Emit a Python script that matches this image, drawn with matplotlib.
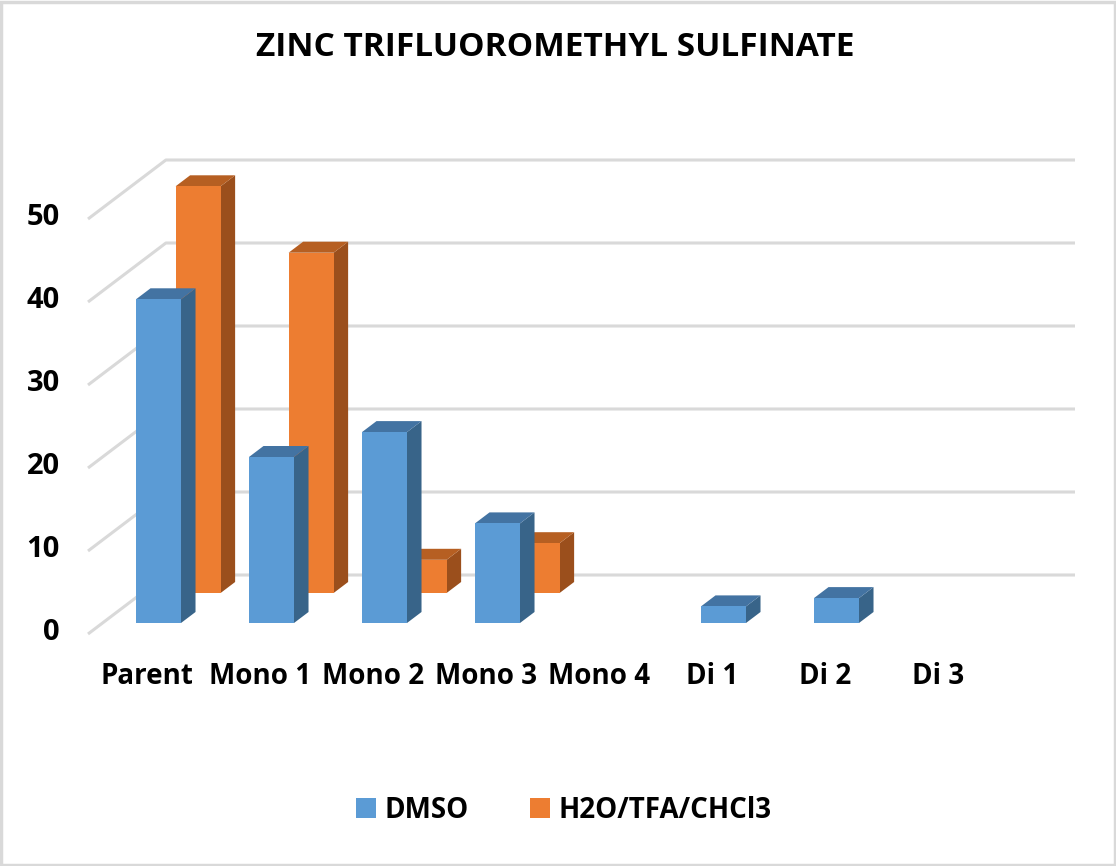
import numpy as np
import matplotlib
matplotlib.use("Agg")
import matplotlib.pyplot as plt
from matplotlib.patches import Polygon, Rectangle, Patch

plt.rcParams['font.family'] = ['Open Sans', 'DejaVu Sans']
plt.rcParams['font.weight'] = 'bold'

categories = ['Parent', 'Mono 1', 'Mono 2', 'Mono 3', 'Mono 4', 'Di 1', 'Di 2', 'Di 3']
dmso = [39, 20, 23, 12, 0, 2, 3, 0]
h2o_tfa = [49, 41, 4, 6, 0, 0, 0, 0]
series_names = ['DMSO', 'H2O/TFA/CHCl3']
yticks = [0, 10, 20, 30, 40, 50]
title = 'ZINC TRIFLUOROMETHYL SULFINATE'

# colours: front, side, top
blue = ('#5b9bd5', '#386489', '#4373a2')
orange = ('#ed7d31', '#9b4f1c', '#b65f22')
grid_col = '#d9d9d9'

# oblique projection: px per category / px per value unit
PXX = 113.0
PXY = 8.3
SLOPE = 1.32  # x px per y px of depth


def depth(d):
    return SLOPE * d / PXX, d / PXY


fig = plt.figure(figsize=(11.16, 8.66), dpi=100)
ax = fig.add_axes([0, 0, 1, 1])
ax.set_xlim(-158.6 / PXX, (1116 - 158.6) / PXX)
ax.set_ylim((623 - 866) / PXY, 623 / PXY)
ax.axis('off')

# walls / gridlines (front wall at depth 0, back wall at depth 59)
wall_x0 = (88 - 158.6) / PXX
wall_y0 = (623 - 634) / PXY
bdx, bdy = depth(59)
for v in yticks:
    ax.plot([wall_x0, wall_x0 + bdx, (1075 - 158.6) / PXX],
            [wall_y0 + v, wall_y0 + bdy + v, wall_y0 + bdy + v],
            color=grid_col, lw=2.2, solid_capstyle='butt', zorder=1)
    ax.text((60 - 158.6) / PXX, wall_y0 + v + 0.2, str(v), ha='right', va='center',
            fontsize=21, fontweight='bold', color='black')

width = 45 / PXX
thick = 11  # bar depth in px


def draw_series(values, d_front, cols, z):
    ox, oy = depth(d_front - 11)
    tx, ty = depth(thick)
    x = np.arange(len(values)) - 0.2 + ox
    vals = np.array(values, dtype=float)
    mask = vals > 0
    ax.bar(x[mask], vals[mask], width=width, bottom=oy, align='edge',
           color=cols[0], zorder=z + 0.5)
    for xi, v in zip(x[mask], vals[mask]):
        top = oy + v
        side = Polygon([(xi + width, oy), (xi + width + tx, oy + ty),
                        (xi + width + tx, top + ty), (xi + width, top)],
                       closed=True, facecolor=cols[1], edgecolor='none', zorder=z)
        lid = Polygon([(xi, top), (xi + tx, top + ty),
                       (xi + width + tx, top + ty), (xi + width, top)],
                      closed=True, facecolor=cols[2], edgecolor='none', zorder=z)
        ax.add_patch(side)
        ax.add_patch(lid)


draw_series(h2o_tfa, 41, orange, 2)
draw_series(dmso, 11, blue, 4)

for i, c in enumerate(categories):
    ax.text(i + (147 - 158.6) / PXX, (623 - 676) / PXY, c, ha='center', va='center',
            fontsize=20, fontweight='bold', color='black')

fig.text(555 / 1116, 1 - 48 / 866, title, ha='center', va='center',
         fontsize=24, fontweight='bold', color='black')

handles = [Patch(facecolor=blue[0]), Patch(facecolor=orange[0])]
fig.legend(handles, series_names, loc='center', bbox_to_anchor=(564 / 1116, 1 - 810 / 866),
           ncol=2, frameon=False, fontsize=20, handlelength=0.7, handleheight=0.7,
           handletextpad=0.32, columnspacing=2.2)

fig.patches.append(Rectangle((0.001, 0.001), 0.998, 0.997, transform=fig.transFigure,
                             fill=False, edgecolor=grid_col, lw=2.5))

fig.savefig('out.png', dpi=100)
